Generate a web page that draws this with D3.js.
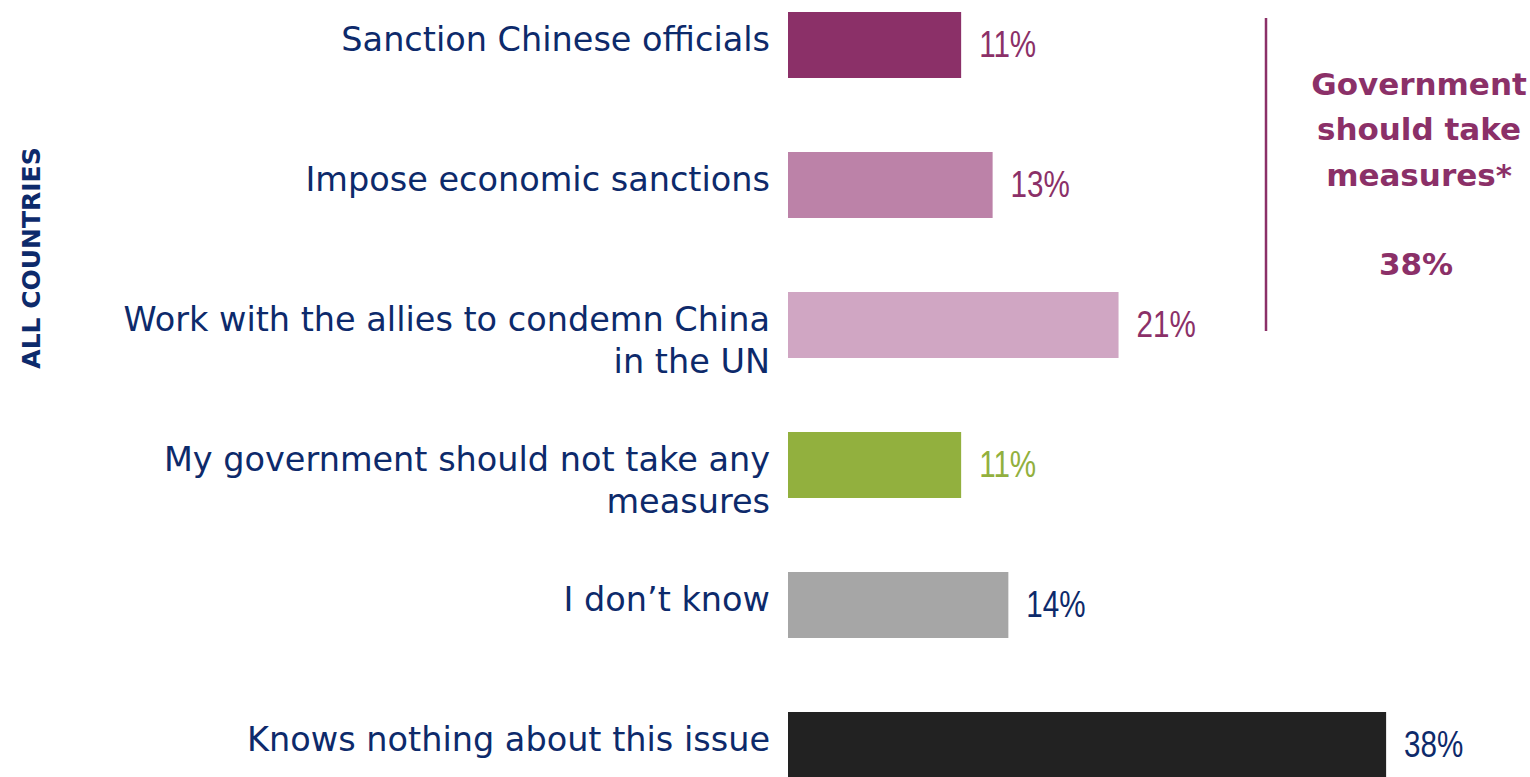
<!DOCTYPE html>
<html><head><meta charset="utf-8">
<script src="https://cdn.jsdelivr.net/npm/d3@7"></script>
<style>html,body{margin:0;padding:0;background:#fff;overflow:hidden}</style>
</head><body>
<svg id="c" width="1530" height="777"></svg>
<script>
const categories = [
  ["Sanction Chinese officials"],
  ["Impose economic sanctions"],
  ["Work with the allies to condemn China","in the UN"],
  ["My government should not take any","measures"],
  ["I don\u2019t know"],
  ["Knows nothing about this issue"]
];
const values = [11, 13, 21, 11, 14, 38];
const barColors = ["#8b3068","#bc82a8","#d0a6c3","#92b03e","#a6a6a6","#222222"];
const labelColors = ["#8b3068","#8b3068","#8b3068","#92b03e","#0d2a6b","#0d2a6b"];
const sideTitle = ["Government","should take","measures*"];
const sideValue = "38%";
const sideLabel = "ALL COUNTRIES";

const navy = "#0d2a6b", purple = "#8b3068";
const svg = d3.select("#c");
const keys = categories.map((d,i)=>i);
const y = d3.scaleBand().domain(keys).range([12, 778]).paddingInner(74/140).paddingOuter(0);
const x = d3.scaleLinear().domain([0, 100]).range([788, 788 + 1574]);

svg.selectAll("rect.bar").data(values).join("rect")
  .attr("class","bar")
  .attr("x", x(0)).attr("y", (d,i)=>y(i))
  .attr("width", d=>x(d)-x(0)).attr("height", y.bandwidth())
  .attr("fill", (d,i)=>barColors[i]);

svg.selectAll("text.val").data(values).join("text")
  .attr("class","val")
  .attr("transform", (d,i)=>`translate(${x(d)+18},${y(i)+y.bandwidth()/2+2}) scale(0.8,1)`)
  .attr("dominant-baseline","middle")
  .attr("font-family","'Liberation Sans',Arial,sans-serif")
  .attr("font-size", 37)
  .attr("fill", (d,i)=>labelColors[i])
  .text(d=>d+"%");

const catG = svg.selectAll("text.cat").data(categories).join("text")
  .attr("class","cat")
  .attr("text-anchor","end")
  .attr("font-family","'DejaVu Sans',sans-serif")
  .attr("font-size", 33.5)
  .attr("fill", navy);
catG.each(function(lines,i){
  const t = d3.select(this);
  lines.forEach((l,j)=>{
    t.append("tspan").attr("x", 770)
     .attr("y", y(i)+y.bandwidth()/2 - 4 + j*42)
     .attr("dominant-baseline","middle")
     .text(l);
  });
});

// side bracket
svg.append("line").attr("x1",1266).attr("x2",1266).attr("y1",18).attr("y2",331)
  .attr("stroke",purple).attr("stroke-width",2.5);
const st = svg.append("text").attr("text-anchor","middle")
  .attr("font-family","'DejaVu Sans',sans-serif").attr("font-weight","bold")
  .attr("font-size",31).attr("fill",purple);
sideTitle.forEach((l,j)=>st.append("tspan").attr("x",1419).attr("y",86+j*45.5)
  .attr("dominant-baseline","middle").text(l));
svg.append("text").attr("x",1416).attr("y",266).attr("text-anchor","middle")
  .attr("dominant-baseline","middle")
  .attr("font-family","'DejaVu Sans',sans-serif").attr("font-weight","bold")
  .attr("font-size",31).attr("fill",purple).text(sideValue);

svg.append("text").attr("transform","translate(33,258) rotate(-90)")
  .attr("text-anchor","middle").attr("dominant-baseline","middle")
  .attr("font-family","'DejaVu Sans',sans-serif").attr("font-weight","bold")
  .attr("font-size",25).attr("fill",navy).text(sideLabel);
</script>
</body></html>
